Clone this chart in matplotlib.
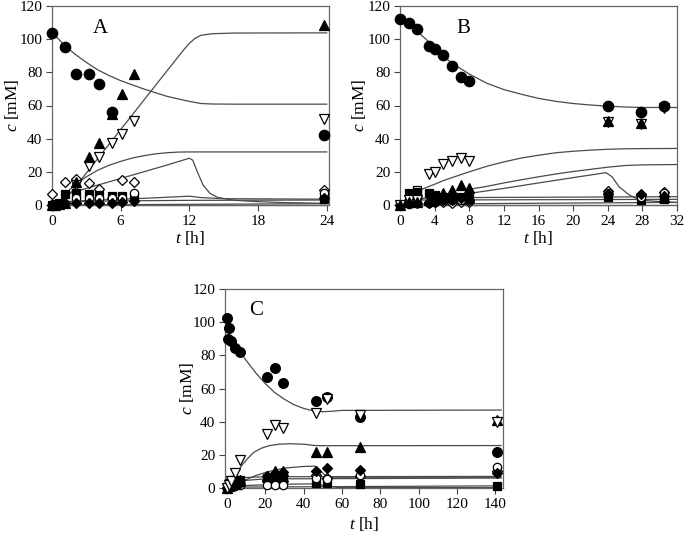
import matplotlib
matplotlib.use("Agg")
import matplotlib.pyplot as plt

plt.rcParams['font.family'] = ['Liberation Serif', 'DejaVu Serif']
plt.rcParams['mathtext.fontset'] = 'custom'
plt.rcParams['mathtext.it'] = 'Liberation Serif:italic'
plt.rcParams['mathtext.rm'] = 'Liberation Serif'

# ---------------- panel A data ----------------
A_circ_t = [0, 1.1, 2.1, 3.2, 4.1, 5.2, 23.8]
A_circ_c = [104, 95.5, 79, 79, 73, 56, 42]
A_tri_t = [0, 0.3, 0.6, 1.1, 2.1, 3.2, 4.1, 5.2, 6.1, 7.2, 23.8]
A_tri_c = [0, 0, 0.5, 1, 14, 29, 37.6, 55, 66.7, 79, 108.5]
A_inv_t = [2.1, 3.2, 4.1, 5.2, 6.1, 7.2, 23.8]
A_inv_c = [12, 23.7, 29, 37.6, 43, 50.6, 52]
A_odia_t = [0, 1.1, 2.1, 3.2, 4.1, 5.2, 6.1, 7.2, 23.8]
A_odia_c = [6.4, 14, 15.7, 13.5, 9.4, 4, 15, 14, 9]
A_sq_t = [0, 0.3, 0.6, 1.1, 2.1, 3.2, 4.1, 5.2, 6.1, 7.2, 23.8]
A_sq_c = [0, 0.5, 1, 6.6, 7, 6.4, 6, 5.4, 5.4, 4, 3.6]
A_ocirc_t = [2.1, 3.2, 4.1, 5.2, 6.1, 7.2, 23.8]
A_ocirc_c = [4, 4, 4, 4.5, 4.5, 7, 7]
A_dia_t = [0, 0.3, 0.6, 1.1, 2.1, 3.2, 4.1, 5.2, 6.1, 7.2, 23.8]
A_dia_c = [0, 0, 0.5, 1, 1, 1.5, 1.5, 1.5, 2, 2.5, 4.5]

A_lines = [
    ([0, 1, 2, 3, 4, 5, 6, 7, 8, 9, 10, 11, 12, 13, 14, 16, 24],
     [104, 97, 91, 86, 81.5, 78, 75, 72.5, 70, 67.8, 65.6, 64, 62.5, 61.2, 60.9, 60.8, 60.8]),
    ([1, 2, 4, 6, 8, 10, 11.5, 12, 12.5, 13, 14, 16, 24],
     [2, 10.5, 28, 45.5, 63, 80.5, 93.5, 97.5, 100.5, 102.3, 103.3, 103.7, 103.8]),
    ([1, 2, 3, 4, 5, 6, 7, 8, 9, 10, 11, 12, 24],
     [6, 12, 17, 21, 24, 26.3, 28.3, 29.7, 30.8, 31.5, 31.9, 32, 32]),
    ([1, 2, 4, 6, 8, 10, 12, 12.3, 12.7, 13.2, 13.8, 14.5, 16, 18, 20, 24],
     [6, 8, 12, 16, 20, 24, 28.2, 27, 20, 12, 7, 4.5, 2.8, 2, 1.5, 1]),
    ([1, 4, 8, 11, 12, 13, 15, 24], [2, 3, 4, 5, 5.3, 4.5, 3.8, 3.5]),
    ([0, 2, 6, 12, 24], [1, 2, 2.5, 2.8, 3]),
    ([0, 24], [0, 0.8]),
    ([0, 24], [0, 0]),
]

# ---------------- panel B data ----------------
B_circ_t = [0, 1, 2, 3.3, 4, 5, 6, 7, 8, 24, 27.8, 30.5]
B_circ_c = [112, 110, 106, 96, 93.9, 90.5, 84, 77.4, 74.8, 59.7, 56.3, 59.7]
B_inv_t = [0, 1, 2, 3.3, 4, 5, 6, 7, 8, 24, 27.8, 30.5]
B_inv_c = [0, 3, 3, 18.5, 19.7, 24.5, 26.5, 28.1, 26.5, 50, 49, 58.3]
B_tri_t = [0, 1, 2, 3.3, 4, 5, 6, 7, 8, 24, 27.8, 30.5]
B_tri_c = [0, 2, 2, 3, 5, 7.4, 9, 12, 10.5, 50.5, 49.5, 5]
B_osq_t = [2]
B_osq_c = [9]
B_sq_t = [0, 1, 2, 3.3, 4, 5, 6, 7, 8, 24, 27.8, 30.5]
B_sq_c = [0, 7, 8, 7, 6, 5, 5, 5, 4.5, 5, 3, 3.5]
B_odia_t = [1, 2, 3.3, 4, 5, 6, 7, 8, 24, 27.8, 30.5]
B_odia_c = [3, 4, 2, 2, 2, 1, 2, 2, 8.5, 6, 8]
B_dia_t = [0, 1, 2, 3.3, 4, 5, 6, 7, 8, 24, 27.8, 30.5]
B_dia_c = [0, 1, 1, 1, 2, 3, 3, 4, 3, 6.5, 6.5, 5.5]
B_ocirc_t = [0, 1, 2, 3.3, 4, 5, 6, 7, 8, 24, 27.8, 30.5]
B_ocirc_c = [0, 0.5, 1, 1.5, 2, 3, 3, 3, 3, 7, 5, 7]

B_lines = [
    ([0, 1, 2, 3, 4, 5, 6, 8, 10, 12, 14, 16, 18, 20, 22, 24, 26, 28, 32],
     [112, 108, 104.5, 100, 94.5, 89.8, 85.5, 79, 73.5, 69.6, 66.8, 64.3, 62.5, 61.2, 60.3, 59.6, 59.1, 58.8, 58.8]),
    ([1.8, 3, 4, 5, 6, 8, 10, 12, 14, 16, 18, 20, 22, 24, 26, 28, 32],
     [8, 10.5, 12.5, 14.7, 16.5, 20, 23.3, 26, 28.3, 30, 31.5, 32.4, 33.1, 33.6, 33.9, 34, 34.1]),
    ([8, 10, 12, 14, 16, 18, 20, 22, 24, 26, 28, 32],
     [9.5, 11.2, 13.3, 15.2, 17, 18.7, 20.2, 21.5, 22.8, 23.8, 24.2, 24.4]),
    ([8, 12, 16, 20, 23.8, 24.5, 25.3, 26.5, 27.6, 29, 32],
     [7, 10, 13.3, 16.5, 19.5, 17, 11, 6, 3.3, 2.4, 1.5]),
    ([2, 8, 32], [4, 4.5, 5]),
    ([2, 32], [3, 3.4]),
    ([0, 32], [0.5, 1.6]),
    ([0, 32], [0, 0]),
]

# ---------------- panel C data ----------------
C_circ_t = [0, 0.5, 1, 2, 4, 7, 21, 25, 29, 46.5, 52.3, 69.4, 141]
C_circ_c = [102.5, 89.8, 96.5, 88.4, 84.4, 81.8, 66.9, 72.2, 63.3, 52.7, 55, 43, 21.7]
C_inv_t = [0, 1, 2, 4, 7, 21, 25, 29, 46.5, 52.3, 69.4, 141]
C_inv_c = [0, 2, 4, 9, 17, 32.8, 38.2, 36.2, 45.2, 53.5, 44, 40]
C_tri_t = [0, 1, 2, 4, 7, 21, 25, 29, 46.5, 52.3, 69.4, 141]
C_tri_c = [0, 1, 2, 3, 4, 7.5, 10, 10.5, 21.5, 21.5, 25, 41]
C_dia_t = [0, 2, 4, 7, 21, 25, 29, 46.5, 52.3, 69.4, 141]
C_dia_c = [0, 1, 2, 3, 7.5, 9, 9.5, 10.5, 12, 11, 9]
C_ocirc_t = [0, 1, 2, 4, 7, 21, 25, 29, 46.5, 52.3, 69.4, 141]
C_ocirc_c = [0, 0.5, 1, 1, 2, 2, 2, 2, 6, 5.5, 8, 12.5]
C_sq_t = [0, 1, 2, 4, 7, 21, 25, 29, 46.5, 52.3, 69.4, 141]
C_sq_c = [0, 3, 5, 5, 5, 6, 6, 6, 3, 3, 2.5, 1]
C_odia_t = [0, 2, 4, 7, 21, 25, 29, 46.5, 52.3, 69.4, 141]
C_odia_c = [0, 3, 4, 5, 4, 4, 4, 8, 6, 7, 10]

C_lines = [
    ([0, 3, 7, 10, 15, 20, 25, 30, 35, 40, 45, 50, 55, 60, 143],
     [89.5, 85.5, 81.8, 77, 69.5, 63, 57.5, 53.5, 50.2, 48, 46.5, 46, 46.3, 46.8, 47]),
    ([3, 5, 8, 11, 14, 18, 22, 27, 33, 40, 46, 52, 143],
     [5, 9, 14, 18, 21.5, 24, 25.5, 26.4, 26.7, 26.4, 25.6, 25.5, 25.6]),
    ([3, 8, 15, 22, 30, 40, 46, 48, 52, 56, 143],
     [2, 4, 7.5, 10, 12, 13, 13.2, 11, 7, 6.5, 6.5]),
    ([3, 20, 143], [6, 6.8, 7]),
    ([3, 20, 143], [4, 5.5, 6]),
    ([0, 10, 30, 46, 52, 58, 143], [0, 1.5, 2.3, 2.5, 1.2, 0.3, 0.2]),
    ([0, 143], [0.5, 1.3]),
]

W, H = 686, 539
fig = plt.figure(figsize=(W / 100, H / 100), dpi=100)

lc = '#4a4a4a'


def make_axes(left, right, top, bottom, ylab_px, xlab_px):
    # ylab_px: right edge of the y label, xlab_px: top edge of the x label
    w = right - left
    h = bottom - top
    ax = fig.add_axes([left / W, 1 - bottom / H, w / W, h / H])
    for s in ax.spines.values():
        s.set_color('#666666')
        s.set_linewidth(0.9)
    ax.tick_params(direction='out', length=4, width=0.8, color='#444444',
                   labelsize=11, top=False, right=False, pad=3)
    ax.set_ylim(0, 120)
    ax.set_yticks([0, 20, 40, 60, 80, 100, 120])
    ax.set_ylabel('$c$ [mM]', fontsize=12.5)
    ax.set_xlabel('$t$ [h]', fontsize=12.5)
    ax.yaxis.set_label_coords((ylab_px - left) / w, 0.5)
    ax.xaxis.set_label_coords(0.5, -(xlab_px - bottom) / h)
    return ax


def pts(ax, t, c, m, filled, ms=6.5):
    fc = 'black' if filled else 'white'
    ax.plot(t, c, linestyle='none', marker=m, ms=ms, mfc=fc, mec='black',
            mew=0.9, clip_on=False, zorder=3)


def curves(ax, lines):
    for t, c in lines:
        ax.plot(t, c, color=lc, lw=0.9, zorder=2, clip_on=False)


# panel A
axA = make_axes(52, 329, 6, 205, 21, 229)
axA.set_xlim(0, 24.2)
axA.set_xticks([0, 6, 12, 18, 24])
curves(axA, A_lines)
pts(axA, A_odia_t, A_odia_c, 'D', False, 5.5)
pts(axA, A_sq_t, A_sq_c, 's', True, 6)
pts(axA, A_ocirc_t, A_ocirc_c, 'o', False, 6)
pts(axA, A_dia_t, A_dia_c, 'D', True, 5.5)
pts(axA, A_inv_t, A_inv_c, 'v', False, 7)
pts(axA, A_tri_t, A_tri_c, '^', True, 7)
pts(axA, A_circ_t, A_circ_c, 'o', True, 7.5)
axA.text(4.2, 106.5, 'A', fontsize=15, ha='center', va='center')

# panel B
axB = make_axes(400, 677, 6, 205, 368, 229)
axB.set_xlim(0, 32)
axB.set_xticks([0, 4, 8, 12, 16, 20, 24, 28, 32])
curves(axB, B_lines)
pts(axB, B_odia_t, B_odia_c, 'D', False, 5.5)
pts(axB, B_osq_t, B_osq_c, 's', False, 6)
pts(axB, B_sq_t, B_sq_c, 's', True, 6)
pts(axB, B_ocirc_t, B_ocirc_c, 'o', False, 6)
pts(axB, B_dia_t, B_dia_c, 'D', True, 5.5)
pts(axB, B_inv_t, B_inv_c, 'v', False, 7)
pts(axB, B_tri_t, B_tri_c, '^', True, 7)
pts(axB, B_circ_t, B_circ_c, 'o', True, 7.5)
axB.text(7.3, 106.5, 'B', fontsize=15, ha='center', va='center')

# panel C
axC = make_axes(225, 503, 289, 488, 196, 515)
axC.set_xlim(-1, 144)
axC.set_xticks([0, 20, 40, 60, 80, 100, 120, 140])
curves(axC, C_lines)
pts(axC, C_odia_t, C_odia_c, 'D', False, 5)
pts(axC, C_sq_t, C_sq_c, 's', True, 5.5)
pts(axC, C_ocirc_t, C_ocirc_c, 'o', False, 6)
pts(axC, C_tri_t, C_tri_c, '^', True, 6.5)
pts(axC, C_dia_t, C_dia_c, 'D', True, 5)
pts(axC, C_circ_t, C_circ_c, 'o', True, 7)
pts(axC, C_inv_t, C_inv_c, 'v', False, 6.5)
axC.text(15, 107, 'C', fontsize=15, ha='center', va='center')

fig.savefig('out.png', dpi=100)
